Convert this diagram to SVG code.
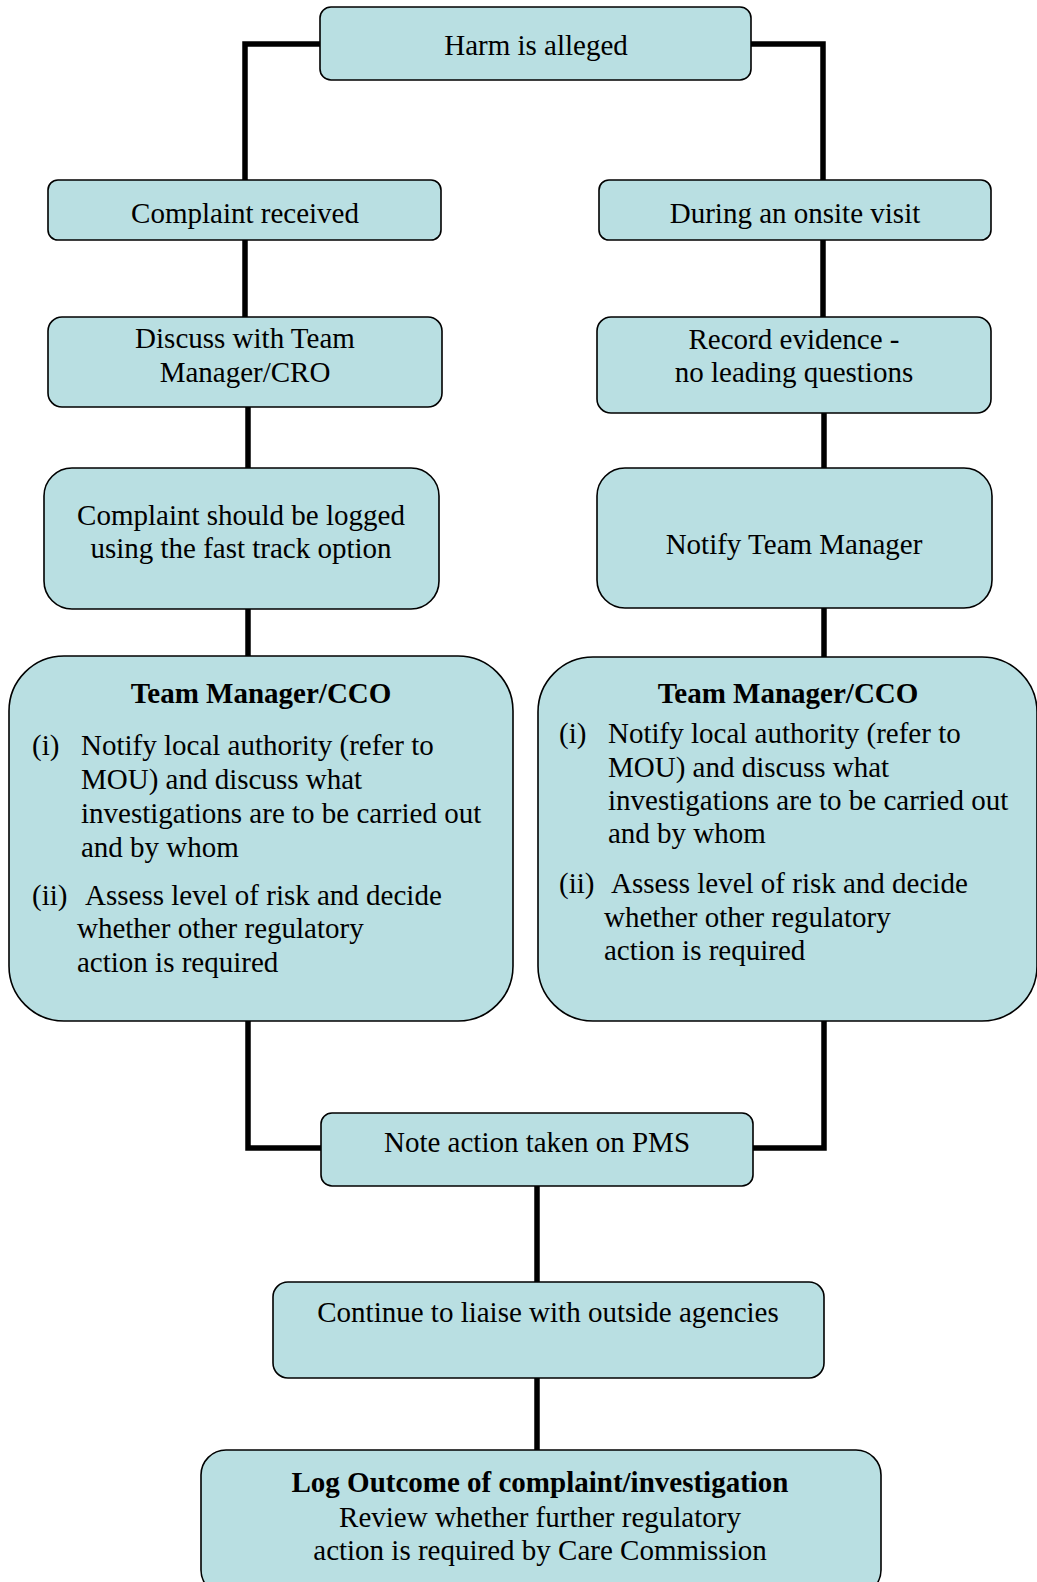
<svg xmlns="http://www.w3.org/2000/svg" width="1037" height="1582" viewBox="0 0 1037 1582">
<style>
.box{fill:#b9dfe2;stroke:#000;stroke-width:1.6}
.con{fill:none;stroke:#000;stroke-width:5.5;stroke-linejoin:miter}
text{font-family:"Liberation Serif","Times New Roman",serif;font-size:29px;fill:#000}
.c{text-anchor:middle}
.b{font-weight:bold}
</style>
<rect width="1037" height="1582" fill="#fff"/>
<g id="connectors">
<polyline class="con" points="320,44 245,44 245,180"/>
<polyline class="con" points="751,44 823,44 823,180"/>
<line class="con" x1="245" y1="240" x2="245" y2="317"/>
<line class="con" x1="823" y1="240" x2="823" y2="317"/>
<line class="con" x1="248" y1="407" x2="248" y2="468"/>
<line class="con" x1="824" y1="413" x2="824" y2="468"/>
<line class="con" x1="248" y1="609" x2="248" y2="657"/>
<line class="con" x1="824" y1="608" x2="824" y2="657"/>
<polyline class="con" points="248,1021 248,1148 321,1148"/>
<polyline class="con" points="824,1021 824,1148 753,1148"/>
<line class="con" x1="537" y1="1186" x2="537" y2="1282"/>
<line class="con" x1="537" y1="1378" x2="537" y2="1450"/>
</g>
<g id="harm">
<rect class="box" x="320" y="7" width="431" height="73" rx="11"/>
<text class="c" x="536" y="55">Harm is alleged</text>
</g>
<g id="complaint-received">
<rect class="box" x="48" y="180" width="393" height="60" rx="10"/>
<text class="c" x="245" y="223">Complaint received</text>
</g>
<g id="onsite-visit">
<rect class="box" x="599" y="180" width="392" height="60" rx="10"/>
<text class="c" x="795" y="223">During an onsite visit</text>
</g>
<g id="discuss">
<rect class="box" x="48" y="317" width="394" height="90" rx="14"/>
<text class="c" x="245" y="348">Discuss with Team</text>
<text class="c" x="245" y="382">Manager/CRO</text>
</g>
<g id="record-evidence">
<rect class="box" x="597" y="317" width="394" height="96" rx="14"/>
<text class="c" x="794" y="349">Record evidence -</text>
<text class="c" x="794" y="382">no leading questions</text>
</g>
<g id="complaint-logged">
<rect class="box" x="44" y="468" width="395" height="141" rx="28"/>
<text class="c" x="241" y="525">Complaint should be logged</text>
<text class="c" x="241" y="558">using the fast track option</text>
</g>
<g id="notify-tm">
<rect class="box" x="597" y="468" width="395" height="140" rx="28"/>
<text class="c" x="794" y="554">Notify Team Manager</text>
</g>
<g id="tm-left">
<rect class="box" x="9" y="656" width="504" height="365" rx="55"/>
<text class="c b" x="261" y="703">Team Manager/CCO</text>
<text x="32" y="755">(i)</text>
<text x="81" y="755">Notify local authority (refer to</text>
<text x="81" y="789">MOU) and discuss what</text>
<text x="81" y="823">investigations are to be carried out</text>
<text x="81" y="857">and by whom</text>
<text x="32" y="905">(ii)</text>
<text x="85" y="905">Assess level of risk and decide</text>
<text x="77" y="938">whether other regulatory</text>
<text x="77" y="972">action is required</text>
</g>
<g id="tm-right">
<rect class="box" x="538" y="657" width="499" height="364" rx="55"/>
<text class="c b" x="788" y="703">Team Manager/CCO</text>
<text x="559" y="743">(i)</text>
<text x="608" y="743">Notify local authority (refer to</text>
<text x="608" y="777">MOU) and discuss what</text>
<text x="608" y="810">investigations are to be carried out</text>
<text x="608" y="843">and by whom</text>
<text x="559" y="893">(ii)</text>
<text x="611" y="893">Assess level of risk and decide</text>
<text x="604" y="927">whether other regulatory</text>
<text x="604" y="960">action is required</text>
</g>
<g id="note-action">
<rect class="box" x="321" y="1113" width="432" height="73" rx="11"/>
<text class="c" x="537" y="1152">Note action taken on PMS</text>
</g>
<g id="continue-liaise">
<rect class="box" x="273" y="1282" width="551" height="96" rx="15"/>
<text class="c" x="548" y="1322">Continue to liaise with outside agencies</text>
</g>
<g id="log-outcome">
<rect class="box" x="201" y="1450" width="680" height="145" rx="25"/>
<text class="c b" x="540" y="1492">Log Outcome of complaint/investigation</text>
<text class="c" x="540" y="1527">Review whether further regulatory</text>
<text class="c" x="540" y="1560">action is required by Care Commission</text>
</g>
</svg>
